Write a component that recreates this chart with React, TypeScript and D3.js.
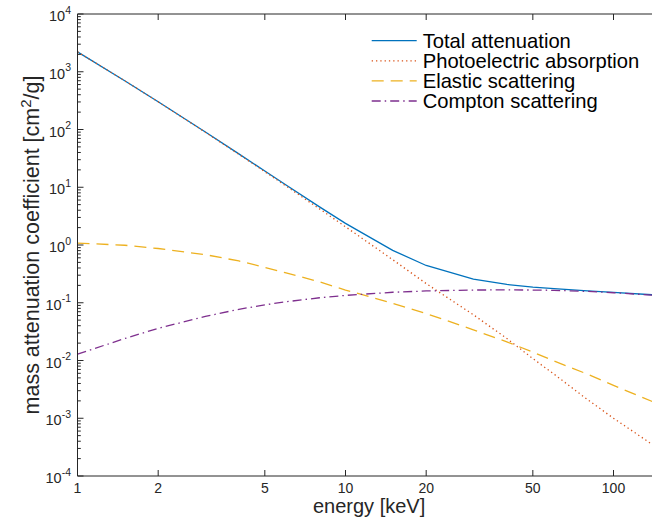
import React, { useEffect, useRef } from 'react';
import { select, scaleLog, line, range } from 'd3';

// photon energy grid [keV]
const energy = [1, 1.5, 2, 3, 4, 5, 6, 8, 10, 15, 20, 30, 40, 50, 60, 80, 100, 150];
// mass attenuation coefficients [cm^2/g]
const total = [2211, 700.2, 302.6, 90.33, 37.78, 19.12, 10.95, 4.576, 2.373, 0.8071, 0.442, 0.2562, 0.2076, 0.1871, 0.1753, 0.161, 0.1514, 0.1347];
const photo = [2210, 699.2, 301.7, 89.6, 37.2, 18.6, 10.5, 4.22, 2.07, 0.557, 0.215, 0.062, 0.024, 0.0108, 0.0058, 0.0021, 0.001, 0.00028];
const elastic = [1.08, 0.99, 0.87, 0.68, 0.53, 0.41, 0.33, 0.23, 0.166, 0.098, 0.065, 0.034, 0.021, 0.014, 0.0098, 0.0058, 0.0037, 0.0017];
const compton = [0.0129, 0.024, 0.036, 0.058, 0.077, 0.092, 0.104, 0.122, 0.134, 0.152, 0.16, 0.166, 0.167, 0.166, 0.164, 0.157, 0.149, 0.133];

const xTicks = [1, 2, 5, 10, 20, 50, 100];
const yExponents = [-4, -3, -2, -1, 0, 1, 2, 3, 4];

const seriesNames = ['Total attenuation', 'Photoelectric absorption', 'Elastic scattering', 'Compton scattering'];
const seriesValues = [total, photo, elastic, compton];
const seriesColors = ['#0072BD', '#D95319', '#EDB120', '#7E2F8E'];
const seriesDash = [null, '1.3,3', '12,7', '9,4,1.5,4'];

const FONT = '"Liberation Sans", Arial, Helvetica, sans-serif';
const AXIS = '#262626';

const App = () => {
  const svgRef = useRef(null);

  useEffect(() => {
    const svg = select(svgRef.current);
    svg.selectAll('*').remove();

    const left = 77.5;
    const top = 14;
    const bottom = 476;
    const xScale = scaleLog().domain([1, 150]).range([left, 660.7]);
    const yScale = scaleLog().domain([1e-4, 1e4]).range([bottom, top]);
    const right = xScale(150);

    /* data lines */
    const plot = svg.append('g');
    seriesValues.forEach((vals, i) => {
      const gen = line<number>()
        .x((d, idx) => xScale(energy[idx]))
        .y(d => yScale(d));
      const p = plot
        .append('path')
        .attr('d', gen(vals))
        .attr('fill', 'none')
        .attr('stroke', seriesColors[i])
        .attr('stroke-width', 1.3);
      if (seriesDash[i]) p.attr('stroke-dasharray', seriesDash[i]);
    });

    /* axes box */
    const axes = svg.append('g').attr('stroke', AXIS).attr('stroke-width', 1);
    axes.append('line').attr('x1', left).attr('x2', right).attr('y1', bottom).attr('y2', bottom);
    axes.append('line').attr('x1', left).attr('x2', right).attr('y1', top).attr('y2', top);
    axes.append('line').attr('x1', left).attr('x2', left).attr('y1', top).attr('y2', bottom);

    const tl = 6;
    xTicks.forEach(t => {
      const x = xScale(t);
      axes.append('line').attr('x1', x).attr('x2', x).attr('y1', bottom).attr('y2', bottom - tl);
      axes.append('line').attr('x1', x).attr('x2', x).attr('y1', top).attr('y2', top + tl);
    });
    yExponents.forEach(e => {
      const y = yScale(Math.pow(10, e));
      axes.append('line').attr('x1', left).attr('x2', left + tl).attr('y1', y).attr('y2', y);
      if (e < 4) {
        range(2, 10).forEach(k => {
          const ym = yScale(k * Math.pow(10, e));
          axes.append('line').attr('x1', left).attr('x2', left + tl * 0.55).attr('y1', ym).attr('y2', ym);
        });
      }
    });

    /* tick labels */
    const labels = svg.append('g').attr('fill', AXIS).style('font-family', FONT);
    xTicks.forEach(t => {
      labels
        .append('text')
        .attr('x', xScale(t))
        .attr('y', 493)
        .attr('text-anchor', 'middle')
        .style('font-size', '14px')
        .text(String(t));
    });
    yExponents.forEach(e => {
      const y = yScale(Math.pow(10, e));
      const txt = labels
        .append('text')
        .attr('x', 71)
        .attr('y', y + 7)
        .attr('text-anchor', 'end')
        .style('font-size', '14.5px');
      txt.append('tspan').text('10');
      txt.append('tspan').attr('dy', -7.5).style('font-size', '10.5px').text(String(e));
    });

    /* axis titles */
    labels
      .append('text')
      .attr('x', (left + right) / 2)
      .attr('y', 513)
      .attr('text-anchor', 'middle')
      .style('font-size', '20px')
      .text('energy [keV]');

    const yt = labels
      .append('text')
      .attr('transform', `translate(39,${(top + bottom) / 2}) rotate(-90)`)
      .attr('text-anchor', 'middle')
      .style('font-size', '21.5px');
    yt.append('tspan').text('mass attenuation coefficient [cm');
    yt.append('tspan').attr('dy', -8.5).style('font-size', '15px').text('2');
    yt.append('tspan').attr('dy', 8.5).text('/g]');

    /* legend */
    const legend = svg.append('g').style('font-family', FONT);
    seriesNames.forEach((name, i) => {
      const cy = 40.7 + i * 20.1;
      const l = legend
        .append('line')
        .attr('x1', 371.7)
        .attr('x2', 416.7)
        .attr('y1', cy)
        .attr('y2', cy)
        .attr('stroke', seriesColors[i])
        .attr('stroke-width', 1.3);
      if (seriesDash[i]) l.attr('stroke-dasharray', seriesDash[i]);
      legend
        .append('text')
        .attr('x', 422.7)
        .attr('y', cy + 7.2)
        .attr('fill', '#000')
        .style('font-size', '20.2px')
        .text(name);
    });
  }, []);

  return (
    <div style={{ position: 'absolute', left: 0, top: 0, width: 652, height: 520, overflow: 'hidden', background: '#fff' }}>
      <svg ref={svgRef} width={652} height={520} />
    </div>
  );
};

export default App;
